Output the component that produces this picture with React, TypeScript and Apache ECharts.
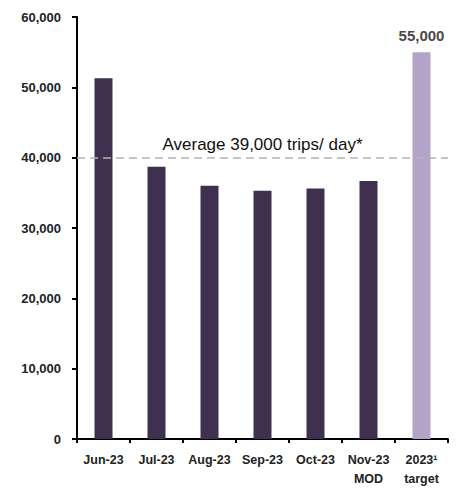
import React, { useEffect, useRef } from "react";
import * as echarts from "echarts";

const categories = ["Jun-23", "Jul-23", "Aug-23", "Sep-23", "Oct-23", "Nov-23\nMOD", "2023¹\ntarget"];
const tripsPerDay = [51300, 38700, 36000, 35300, 35600, 36700, 55000];
const targetIndex = 6;
const averageValue = 40000;
const averageLabel = "Average 39,000 trips/ day*";
const yTicks = { min: 0, max: 60000, interval: 10000 };

const DARK = "#3f3050";
const LIGHT = "#b3a3c9";

export default function App() {
  const ref = useRef<HTMLDivElement>(null);
  useEffect(() => {
    if (!ref.current) return;
    const chart = echarts.init(ref.current, undefined, { renderer: "svg" });
    const fmt = (v: number) => v.toLocaleString("en-US");
    chart.setOption({
      animation: false,
      backgroundColor: "#ffffff",
      grid: { left: 77, right: 11, top: 17, bottom: 45, containLabel: false },
      xAxis: {
        type: "category",
        data: categories,
        axisLine: { show: true, lineStyle: { color: "#000", width: 2 } },
        axisTick: { show: true, length: 4, lineStyle: { color: "#000", width: 2 } },
        axisLabel: {
          margin: 11,
          color: "#222",
          fontFamily: "Liberation Sans",
          fontWeight: "bold",
          fontSize: 12.5,
          lineHeight: 19,
          interval: 0,
        },
      },
      yAxis: {
        type: "value",
        min: yTicks.min,
        max: yTicks.max,
        interval: yTicks.interval,
        splitLine: { show: false },
        axisLine: { show: true, lineStyle: { color: "#000", width: 2 } },
        axisTick: { show: true, length: 5, lineStyle: { color: "#000", width: 2 } },
        axisLabel: {
          margin: 16,
          color: "#222",
          fontFamily: "Liberation Sans",
          fontWeight: "bold",
          fontSize: 13,
          formatter: (v: number) => fmt(v),
        },
      },
      series: [
        {
          type: "bar",
          barWidth: 18,
          data: tripsPerDay.map((v, i) => ({
            value: v,
            itemStyle: { color: i === targetIndex ? LIGHT : DARK },
            label:
              i === targetIndex
                ? {
                    show: true,
                    position: "top",
                    distance: 9,
                    formatter: () => fmt(v),
                    color: "#4a4a4a",
                    fontFamily: "Liberation Sans",
                    fontWeight: "bold",
                    fontSize: 15,
                  }
                : { show: false },
          })),
          markLine: {
            silent: true,
            symbol: "none",
            lineStyle: { type: [8, 5], color: "#b4b4b4", width: 1.5 },
            label: {
              show: true,
              position: "insideMiddleTop",
              distance: 5,
              formatter: averageLabel,
              color: "#111",
              fontFamily: "Liberation Sans",
              fontSize: 17,
            },
            data: [{ yAxis: averageValue }],
          },
        },
      ],
    });
    return () => chart.dispose();
  }, []);
  return <div ref={ref} style={{ position: "fixed", left: 0, top: 0, width: 459, height: 488 }} />;
}
